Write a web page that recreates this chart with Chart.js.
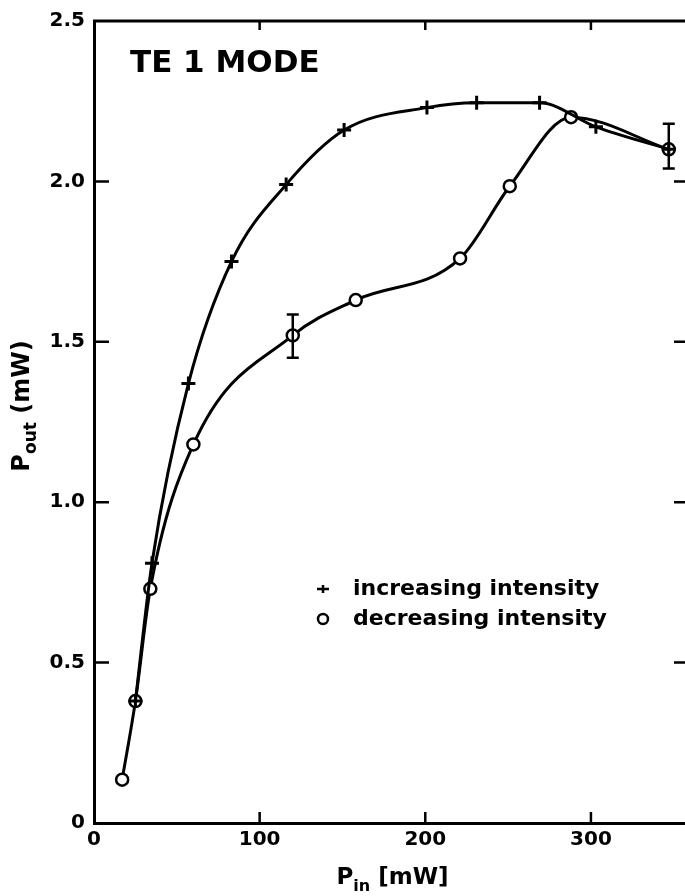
<!DOCTYPE html>
<html>
<head>
<meta charset="utf-8">
<script src="https://cdn.jsdelivr.net/npm/chart.js@4/dist/chart.umd.min.js"></script>
<style>
    html, body { margin: 0; padding: 0; background: #fff; overflow: hidden; }
    #wrap { width: 700px; height: 896px; }
</style>
</head>
<body>
<div id="wrap"><canvas id="chart" width="700" height="896"></canvas></div>
<script>
// values
const incPin  = [25, 35, 57, 83, 116, 151, 201, 231, 269, 303, 347];
const incPout = [0.38, 0.81, 1.37, 1.75, 1.99, 2.16, 2.23, 2.245, 2.245, 2.17, 2.10];
const decPin  = [17, 25, 34, 60, 120, 158, 221, 251, 288, 347];
const decPout = [0.135, 0.38, 0.73, 1.18, 1.52, 1.63, 1.76, 1.985, 2.2, 2.10];

// error bars on the decreasing branch
const errPin  = [120, 347];
const errLow  = [1.45, 2.04];
const errHigh = [1.585, 2.18];

const yTicks = [0, 0.5, 1.0, 1.5, 2.0, 2.5];
const xTicks = [0, 100, 200, 300];

const titleText = 'TE 1 MODE';
const FONT = '"DejaVu Sans", sans-serif';

function toPoints(xs, ys) {
    return xs.map((x, i) => ({ x: x, y: ys[i] }));
}

// draws "P" with a subscript and a unit, centred on 0,0 of the current transform
function drawSubLabel(ctx, main, sub, rest, big, small) {
    ctx.font = 'bold ' + big + 'px ' + FONT;
    const wMain = ctx.measureText(main).width;
    const wRest = ctx.measureText(rest).width;
    ctx.font = 'bold ' + small + 'px ' + FONT;
    const wSub = ctx.measureText(sub).width;
    const x0 = -(wMain + wSub + wRest) / 2;
    ctx.font = 'bold ' + big + 'px ' + FONT;
    ctx.fillText(main, x0, 0);
    ctx.font = 'bold ' + small + 'px ' + FONT;
    ctx.fillText(sub, x0 + wMain, 7);
    ctx.font = 'bold ' + big + 'px ' + FONT;
    ctx.fillText(rest, x0 + wMain + wSub, 0);
}

// frame, inward ticks, error bars, labels and legend
const decorPlugin = {
    id: 'decor',
    afterDatasetsDraw(chart) {
        const ctx = chart.ctx;
        const a = chart.chartArea;
        const xs = chart.scales.x;
        const ys = chart.scales.y;
        ctx.save();
        ctx.strokeStyle = '#000';
        ctx.lineCap = 'butt';

        // top frame line
        ctx.lineWidth = 3;
        ctx.beginPath();
        ctx.moveTo(a.left - 1, a.top);
        ctx.lineTo(a.right + 5, a.top);
        ctx.stroke();

        // ticks on all sides
        ctx.lineWidth = 2.5;
        yTicks.slice(1, -1).forEach(v => {
            const py = ys.getPixelForValue(v);
            ctx.beginPath();
            ctx.moveTo(a.left, py);
            ctx.lineTo(a.left + 15, py);
            ctx.moveTo(a.right, py);
            ctx.lineTo(a.right - 13, py);
            ctx.stroke();
        });
        xTicks.slice(1).forEach(v => {
            const px = xs.getPixelForValue(v);
            ctx.beginPath();
            ctx.moveTo(px, a.bottom);
            ctx.lineTo(px, a.bottom - 11);
            ctx.moveTo(px, a.top);
            ctx.lineTo(px, a.top + 9);
            ctx.stroke();
        });

        // error bars
        errPin.forEach((v, i) => {
            const px = xs.getPixelForValue(v);
            const lo = ys.getPixelForValue(errLow[i]);
            const hi = ys.getPixelForValue(errHigh[i]);
            ctx.beginPath();
            ctx.moveTo(px, lo);
            ctx.lineTo(px, hi);
            ctx.moveTo(px - 6, lo);
            ctx.lineTo(px + 6, lo);
            ctx.moveTo(px - 6, hi);
            ctx.lineTo(px + 6, hi);
            ctx.stroke();
        });

        ctx.fillStyle = '#000';
        ctx.textAlign = 'left';
        ctx.textBaseline = 'alphabetic';

        // panel title
        ctx.font = 'bold 31px ' + FONT;
        ctx.fillText(titleText, 130, 72);

        // x axis title
        ctx.save();
        ctx.translate((a.left + a.right) / 2 + 2, 884);
        drawSubLabel(ctx, 'P', 'in', ' [mW]', 23, 16);
        ctx.restore();

        // y axis title, rotated
        ctx.save();
        ctx.translate(29, 406);
        ctx.rotate(-Math.PI / 2);
        drawSubLabel(ctx, 'P', 'out', ' (mW)', 24, 17);
        ctx.restore();

        // legend
        const lx = 323;
        const rows = [589, 619];
        ctx.font = 'bold 22px ' + FONT;
        ctx.textBaseline = 'middle';
        chart.data.datasets.forEach((ds, i) => {
            const ly = rows[i];
            ctx.lineWidth = 2.5;
            ctx.beginPath();
            if (ds.pointStyle === 'cross') {
                ctx.moveTo(lx - 6, ly);
                ctx.lineTo(lx + 6, ly);
                ctx.moveTo(lx, ly - 4);
                ctx.lineTo(lx, ly + 4);
            } else {
                ctx.arc(lx, ly, 5, 0, Math.PI * 2);
            }
            ctx.stroke();
            ctx.fillText(ds.label, lx + 30, ly);
        });

        ctx.restore();
    }
};

const ctx = document.getElementById('chart').getContext('2d');
const chart = new Chart(ctx, {
    type: 'line',
    data: {
        datasets: [{
            label: 'increasing intensity',
            data: toPoints(incPin, incPout),
            borderColor: '#000',
            borderWidth: 3,
            pointStyle: 'cross',
            pointRadius: 7,
            pointBorderWidth: 3,
            pointBorderColor: '#000',
            cubicInterpolationMode: 'monotone',
            fill: false
        }, {
            label: 'decreasing intensity',
            data: toPoints(decPin, decPout),
            borderColor: '#000',
            borderWidth: 3,
            pointStyle: 'circle',
            pointRadius: 6,
            pointBorderWidth: 2.5,
            pointBorderColor: '#000',
            pointBackgroundColor: '#fff',
            cubicInterpolationMode: 'monotone',
            fill: false
        }]
    },
    options: {
        responsive: false,
        animation: false,
        events: [],
        layout: {
            padding: { left: 0, top: 20, right: 13, bottom: 0 }
        },
        plugins: {
            legend: { display: false },
            tooltip: { enabled: false }
        },
        scales: {
            x: {
                type: 'linear',
                min: 0,
                max: 358,
                afterFit: function(scale) { scale.height = 73; },
                afterBuildTicks: function(scale) {
                    scale.ticks = xTicks.map(v => ({ value: v }));
                },
                grid: { display: false, drawTicks: false },
                border: { display: true, color: '#000', width: 3 },
                ticks: {
                    color: '#000',
                    padding: 5,
                    font: { family: FONT, size: 20, weight: 'bold' },
                    callback: function(value) { return String(value); }
                }
            },
            y: {
                type: 'linear',
                min: 0,
                max: 2.5,
                afterFit: function(scale) { scale.width = 94; },
                afterBuildTicks: function(scale) {
                    scale.ticks = yTicks.map(v => ({ value: v }));
                },
                grid: { display: false, drawTicks: false },
                border: { display: true, color: '#000', width: 3 },
                ticks: {
                    color: '#000',
                    padding: 9,
                    font: { family: FONT, size: 20, weight: 'bold' },
                    callback: function(value) {
                        return value === 0 ? '0' : value.toFixed(1);
                    }
                }
            }
        }
    },
    plugins: [decorPlugin]
});
</script>
</body>
</html>
